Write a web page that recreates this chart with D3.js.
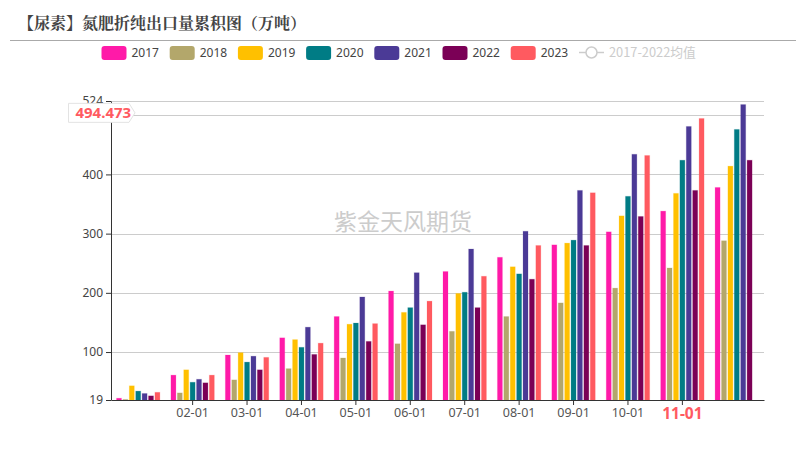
<!DOCTYPE html>
<html>
<head>
<meta charset="utf-8">
<script src="https://cdn.jsdelivr.net/npm/d3@7/dist/d3.min.js"></script>
<style>
html, body { margin: 0; padding: 0; background: #fff; }
svg { display: block; }
text { font-family: "Noto Sans CJK SC", "Noto Sans", sans-serif; }
</style>
</head>
<body>
<script>
// data
var months = ["01-01","02-01","03-01","04-01","05-01","06-01","07-01","08-01","09-01","10-01","11-01","12-01"];
var tickMonths = ["02-01","03-01","04-01","05-01","06-01","07-01","08-01","09-01","10-01","11-01"];
var years = ["2017","2018","2019","2020","2021","2022","2023"];
var colors = ["#ff1aa8","#b3a76b","#ffc000","#007c85","#4b3a96","#7b0056","#ff5a60"];
var v2017 = [22,61,95,124,160,203,236,260,281,303,338,378];
var v2018 = [20,31,53,72,90,114,135,160,183,208,242,288];
var v2019 = [43,70,99,121,147,167,199,244,284,330,368,414];
var v2020 = [34,49,83,108,149,175,201,232,289,363,424,476];
var v2021 = [30,54,93,142,193,234,274,304,373,434,481,518];
var v2022 = [26,48,70,96,118,146,175,223,280,329,373,424];
var v2023 = [32,61,91,115,148,186,228,280,369,432,494.473,null];
var series = [v2017,v2018,v2019,v2020,v2021,v2022,v2023];
var yTicks = [19,100,200,300,400,524];
var gridValues = [100,200,300,400,500,524];
var pointerLabel = "494.473";
var pointerValue = 504;
var activeMonth = "11-01";
var avgName = "2017-2022均值";

var width = 806, height = 460;
var padding = {left:111, right:42, top:101, bottom:60};

var svg = d3.select("body").append("svg")
	.attr("width", width)
	.attr("height", height);

// 标题
svg.append("text")
	.attr("x", 18).attr("y", 29)
	.attr("font-size", 16).attr("font-weight", 700).attr("fill", "#444")
	.style("font-family", "'Noto Serif CJK SC','Noto Sans CJK SC',serif")
	.text("【尿素】氮肥折纯出口量累积图（万吨）");
svg.append("line")
	.attr("x1", 10).attr("x2", 796).attr("y1", 40.5).attr("y2", 40.5)
	.attr("stroke", "#aaa");

// scales
var xScale = d3.scaleBand()
	.domain(months)
	.range([padding.left, width - padding.right]);
var barScale = d3.scaleBand()
	.domain(years)
	.range([0, xScale.bandwidth()])
	.paddingInner(0.22)
	.paddingOuter(0.86);
var yScale = d3.scaleLinear()
	.domain([19, 524])
	.range([height - padding.bottom, padding.top]);

// gridlines
svg.append("g").selectAll("line")
	.data(gridValues)
	.enter().append("line")
	.attr("x1", padding.left).attr("x2", width - padding.right)
	.attr("y1", function(d){ return Math.round(yScale(d)) + 0.5; })
	.attr("y2", function(d){ return Math.round(yScale(d)) + 0.5; })
	.attr("stroke", "#ccc");

// watermark
svg.append("text")
	.attr("x", 403).attr("y", 230)
	.attr("text-anchor", "middle")
	.attr("font-size", 23).attr("fill", "#ccc")
	.text("紫金天风期货");

// bars
var groups = svg.selectAll(".year")
	.data(series)
	.enter().append("g")
	.attr("class", "year")
	.attr("fill", function(d,i){ return colors[i]; })
	.attr("stroke", function(d,i){ return colors[i]; })
	.attr("stroke-opacity", 0.18)
	.attr("transform", function(d,i){ return "translate(" + barScale(years[i]) + ",0)"; });
groups.selectAll("rect")
	.data(function(d){ return d.map(function(v,i){ return {month:months[i], value:v}; }).filter(function(o){ return o.value != null; }); })
	.enter().append("rect")
	.attr("x", function(d){ return xScale(d.month); })
	.attr("y", function(d){ return yScale(d.value); })
	.attr("width", barScale.bandwidth())
	.attr("height", function(d){ return yScale(19) - yScale(d.value); });

// axes
var xAxis = d3.axisBottom(xScale).tickValues(tickMonths).tickSize(5).tickSizeOuter(0).tickPadding(3);
var gx = svg.append("g")
	.attr("transform", "translate(0," + (height - padding.bottom) + ")")
	.call(xAxis);
gx.select(".domain").attr("stroke", "#333");
gx.selectAll("line").attr("stroke", "#333");
gx.selectAll("text")
	.attr("font-size", 12.5).attr("fill", "#555")
	.style("font-family", "'Noto Sans',sans-serif");
gx.selectAll("text").filter(function(d){ return d === activeMonth; })
	.attr("font-size", 15.5).attr("font-weight", 700).attr("fill", "#ff5a60");

var yAxis = d3.axisLeft(yScale).tickValues(yTicks).tickSize(5).tickSizeOuter(0).tickPadding(3)
	.tickFormat(d3.format("d"));
var gy = svg.append("g")
	.attr("transform", "translate(" + padding.left + ",0)")
	.call(yAxis);
gy.select(".domain").attr("stroke", "#333");
gy.selectAll("line").attr("stroke", "#333");
gy.selectAll("text")
	.attr("font-size", 12).attr("fill", "#444")
	.style("font-family", "'Noto Sans',sans-serif");

// axis pointer label
var pY = yScale(pointerValue);
svg.append("path")
	.attr("d", "M68.5," + (pY-9.5) + "H129L135," + pY + "L129," + (pY+9.5) + "H68.5Z")
	.attr("fill", "#fff").attr("stroke", "#e3e3e3");
svg.append("text")
	.attr("x", 103.3).attr("y", pY + 5.3)
	.attr("text-anchor", "middle")
	.attr("font-size", 15).attr("font-weight", 700).attr("fill", "#ff5a60")
	.style("font-family", "'Noto Sans',sans-serif")
	.text(pointerLabel);

// legend
var legendStart = 101.5, legendStep = 68.2;
var legend = svg.selectAll(".legend")
	.data(years)
	.enter().append("g")
	.attr("class", "legend")
	.attr("transform", function(d,i){ return "translate(" + (legendStart + i * legendStep) + ",46)"; });
legend.append("rect")
	.attr("width", 25).attr("height", 14).attr("rx", 3)
	.attr("fill", function(d,i){ return colors[i]; });
legend.append("text")
	.attr("x", 30).attr("y", 10.5)
	.attr("font-size", 12).attr("fill", "#444")
	.style("font-family", "'Noto Sans',sans-serif")
	.text(function(d){ return d; });

var avg = svg.append("g").attr("transform", "translate(579,52.5)");
avg.append("line").attr("x1", 0).attr("x2", 25).attr("stroke", "#ccc").attr("stroke-width", 1.5);
avg.append("circle").attr("cx", 12.5).attr("r", 5.5).attr("fill", "#fff").attr("stroke", "#ccc").attr("stroke-width", 1.5);
avg.append("text")
	.attr("x", 30).attr("y", 4)
	.attr("font-size", 12.8).attr("fill", "#ccc")
	.text(avgName);
</script>
</body>
</html>
